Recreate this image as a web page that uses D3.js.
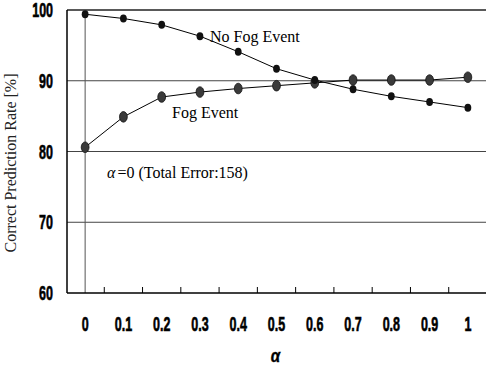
<!DOCTYPE html>
<html>
<head>
<meta charset="utf-8">
<script src="https://cdn.jsdelivr.net/npm/d3@7"></script>
<style>
  body { margin: 0; background: #fff; }
  svg { display: block; }
</style>
</head>
<body>
<div id="chart"></div>
<script>
// data
var alphas = ["0", "0.1", "0.2", "0.3", "0.4", "0.5", "0.6", "0.7", "0.8", "0.9", "1"];
var noFogEvent = [99.4, 98.8, 97.9, 96.3, 94.1, 91.7, 90.1, 88.8, 87.8, 87.0, 86.2];
var fogEvent = [80.6, 84.9, 87.7, 88.4, 88.9, 89.3, 89.7, 90.1, 90.1, 90.1, 90.5];
var yTicks = [60, 70, 80, 90, 100];

var margin = {top: 10, right: 0, bottom: 75, left: 67},
    width = 486 - margin.left - margin.right,
    height = 368 - margin.top - margin.bottom;

var svg = d3.select("#chart")
  .append("svg")
  .attr("width", 486)
  .attr("height", 368)
  .append("g")
  .attr("transform", `translate(${margin.left},${margin.top})`);

var x = d3.scaleBand()
  .domain(alphas)
  .range([0, 421]);

var y = d3.scaleLinear()
  .domain([60, 100])
  .range([height, 0]);

var cx = d => x(d) + x.bandwidth() / 2 - 1;

var narrow = "'Liberation Sans', Arial, sans-serif";
var serif = "'Liberation Serif', 'Times New Roman', 'DejaVu Serif', serif";

// horizontal grid lines
svg.selectAll(".grid")
  .data(yTicks.filter(d => d > 60))
  .enter().append("line")
  .attr("x1", 0).attr("x2", width)
  .attr("y1", d => y(d)).attr("y2", d => y(d))
  .attr("stroke", d => d == 100 ? "#222" : "#444")
  .attr("stroke-width", d => d == 100 ? 1.5 : 1);

// vertical line at alpha = 0
svg.append("line")
  .attr("x1", cx("0")).attr("x2", cx("0"))
  .attr("y1", 0).attr("y2", height)
  .attr("stroke", "#555")
  .attr("stroke-width", 1);

// y axis (labels squeezed to look like a condensed bold face)
var gy = svg.append("g");
gy.append("line")
  .attr("y1", 0).attr("y2", height)
  .attr("stroke", "#000").attr("stroke-width", 1.5);
gy.selectAll(".ylbl")
  .data(yTicks)
  .enter().append("text")
  .attr("transform", d => `translate(-14,${y(d) + 7}) scale(0.64,1)`)
  .attr("text-anchor", "end")
  .style("font-family", narrow)
  .style("font-weight", "bold")
  .style("font-size", "19.5px")
  .attr("stroke", "#000")
  .attr("stroke-width", 0.6)
  .text(d => d);

// x axis: inside ticks at band boundaries
var gx = svg.append("g").attr("transform", `translate(0,${height})`);
gx.append("line")
  .attr("x1", 0).attr("x2", width)
  .attr("stroke", "#000").attr("stroke-width", 1.5);
gx.selectAll(".tk")
  .data(alphas.slice(1))
  .enter().append("line")
  .attr("x1", d => x(d) - 1).attr("x2", d => x(d) - 1)
  .attr("y1", 0).attr("y2", -6)
  .attr("stroke", "#000");
gx.selectAll(".lbl")
  .data(alphas)
  .enter().append("text")
  .attr("transform", d => `translate(${cx(d)},38) scale(0.64,1)`)
  .attr("text-anchor", "middle")
  .style("font-family", narrow)
  .style("font-weight", "bold")
  .style("font-size", "19.5px")
  .attr("stroke", "#000")
  .attr("stroke-width", 0.6)
  .text(d => d);

// axis titles
svg.append("text")
  .attr("transform", `translate(${width / 2 - 1},${height + 69}) scale(0.8,1)`)
  .attr("text-anchor", "middle")
  .style("font-family", narrow)
  .style("font-weight", "bold")
  .style("font-style", "italic")
  .style("font-size", "19px")
  .attr("stroke", "#000")
  .attr("stroke-width", 0.4)
  .text("α");

svg.append("text")
  .attr("transform", `translate(${-51},${153}) rotate(-90)`)
  .attr("text-anchor", "middle")
  .style("font-family", serif)
  .style("font-size", "16px")
  .attr("fill", "#222")
  .text("Correct Prediction Rate [%]");

// lines
var line = d3.line()
  .x((d, i) => cx(alphas[i]))
  .y(d => y(d));

svg.append("path")
  .datum(noFogEvent)
  .attr("d", line)
  .attr("fill", "none")
  .attr("stroke", "#000")
  .attr("stroke-width", 1);

svg.append("path")
  .datum(fogEvent)
  .attr("d", line)
  .attr("fill", "none")
  .attr("stroke", "#000")
  .attr("stroke-width", 1);

// markers
svg.selectAll(".fog")
  .data(fogEvent)
  .enter().append("ellipse")
  .attr("cx", (d, i) => cx(alphas[i]))
  .attr("cy", d => y(d))
  .attr("rx", 3.9)
  .attr("ry", 5.3)
  .attr("fill", "#3a3a3a")
  .attr("stroke", "#111")
  .attr("stroke-width", 0.8);

svg.selectAll(".nofog")
  .data(noFogEvent)
  .enter().append("ellipse")
  .attr("cx", (d, i) => cx(alphas[i]))
  .attr("cy", d => y(d))
  .attr("rx", 3.4)
  .attr("ry", 4)
  .attr("fill", "#111");

// annotations
svg.append("text")
  .attr("x", 210 - margin.left).attr("y", 42 - margin.top)
  .style("font-family", serif).style("font-size", "16px")
  .text("No Fog Event");

svg.append("text")
  .attr("x", 172 - margin.left).attr("y", 118 - margin.top)
  .style("font-family", serif).style("font-size", "16px")
  .text("Fog Event");

var ann = svg.append("text")
  .attr("x", 107 - margin.left).attr("y", 178 - margin.top)
  .style("font-family", serif).style("font-size", "16px");
ann.append("tspan").style("font-style", "italic").text("α");
ann.append("tspan").attr("dx", 2).text("=0 (Total Error:158)");
</script>
</body>
</html>
